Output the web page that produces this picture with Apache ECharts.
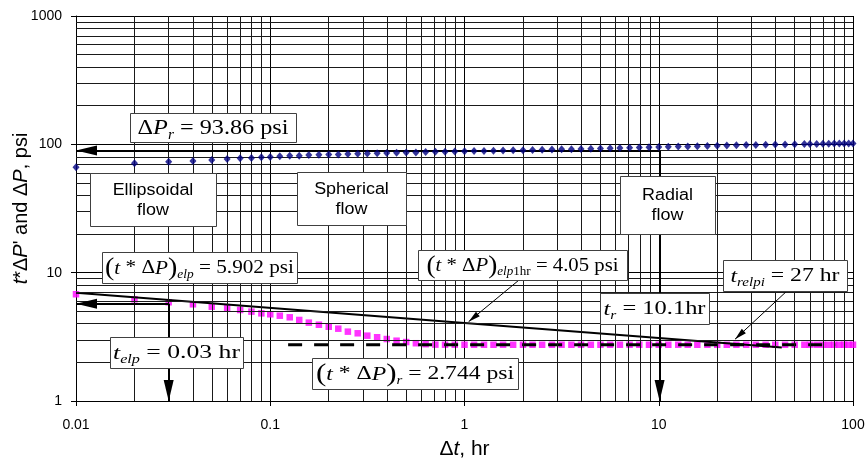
<!DOCTYPE html>
<html>
<head>
<meta charset="utf-8">
<script src="https://cdn.jsdelivr.net/npm/echarts@6/dist/echarts.min.js"></script>
<style>
  html, body { margin: 0; padding: 0; background: #fff; }
  #chart { width: 867px; height: 460px; }
</style>
</head>
<body>
<div id="chart"></div>
<script>
// elapsed time, hr
var timeHr = [
  0.01, 0.02, 0.03, 0.04, 0.05, 0.06, 0.07, 0.08, 0.09, 0.1,
  0.112, 0.126, 0.141, 0.158, 0.178, 0.2, 0.224, 0.251, 0.282, 0.316,
  0.355, 0.398, 0.447, 0.501, 0.562, 0.631, 0.708, 0.794, 0.891, 1,
  1.12, 1.26, 1.41, 1.58, 1.78, 2, 2.24, 2.51, 2.82, 3.16,
  3.55, 3.98, 4.47, 5.01, 5.62, 6.31, 7.08, 7.94, 8.91, 10,
  11.2, 12.6, 14.1, 15.8, 17.8, 20, 22.4, 25.1, 28.2, 31.6,
  35.5, 39.8, 44.7, 50.1, 56.2,
  60, 65, 70, 75, 80, 85, 90, 95, 100
]
// pressure drop, psi
var deltaP = [
  66.3, 71.3, 73.3, 74.3, 75.5, 76.9, 77.8, 78.4, 79.2, 79.5,
  80.9, 81.3, 81.3, 82.6, 82.8, 83.2, 83.4, 84.2, 84.5, 84.9,
  85.4, 85.6, 85.8, 86.2, 86.5, 87.2, 87.4, 87.6, 87.8, 88.3,
  88.6, 88.9, 89.2, 89.5, 89.8, 90.1, 90.4, 90.7, 91.0, 91.4,
  91.7, 92.1, 92.5, 92.9, 93.3, 93.7, 94.1, 94.5, 94.9, 95.3,
  95.7, 96.0, 96.4, 96.8, 97.1, 97.5, 97.9, 98.3, 98.6, 99.0,
  99.3, 99.6, 99.9, 100.2, 100.4,
  100.6, 100.8, 101.0, 101.1, 101.3, 101.4, 101.5, 101.6, 101.7
]
// pressure derivative t*dP', psi
var derivP = [
  6.79, 6.2, 5.88, 5.67, 5.43, 5.31, 5.12, 4.97, 4.82, 4.74,
  4.62, 4.49, 4.28, 4.08, 3.93, 3.79, 3.66, 3.47, 3.37, 3.23,
  3.14, 3.04, 2.95, 2.88, 2.82, 2.77, 2.75, 2.745, 2.744, 2.744,
  2.744, 2.743, 2.744, 2.745, 2.744, 2.744, 2.743, 2.744, 2.744, 2.745,
  2.744, 2.744, 2.743, 2.744, 2.744, 2.745, 2.744, 2.744, 2.743, 2.744,
  2.744, 2.745, 2.744, 2.744, 2.743, 2.744, 2.744, 2.744, 2.745, 2.744,
  2.744, 2.743, 2.744, 2.744, 2.744,
  2.745, 2.744, 2.744, 2.743, 2.744, 2.744, 2.745, 2.744, 2.744
]
// ellipsoidal flow straight line
var elpLineT = [0.01, 1, 43]
var elpLineV = [6.97, 4.05, 2.61]
// radial flow level
var radialT = [0.1236, 81]
var radialV = 2.744

var xTicks = [0.01, 0.1, 1, 10, 100]
var xTickLabels = ['0.01', '0.1', '1', '10', '100']
var yTicks = [1, 10, 100, 1000]
var yTickLabels = ['1', '10', '100', '1000']
var minorX = [0.02, 0.03, 0.04, 0.05, 0.06, 0.07, 0.08, 0.09,
  0.2, 0.3, 0.4, 0.5, 0.6, 0.7, 0.8, 0.9,
  2, 3, 4, 5, 6, 7, 8, 9,
  20, 30, 40, 50, 60, 70, 80, 90]
var minorY = [2, 3, 4, 5, 6, 7, 8, 9,
  20, 30, 40, 50, 60, 70, 80, 90,
  200, 300, 400, 500, 600, 700, 800, 900]

// annotation arrows [from, to] in data units
var thickArrows = [
  [[10.1, 89.5], [0.01, 89.5]],
  [[10.1, 89.5], [10.1, 1]],
  [[0.03, 5.72], [0.01, 5.72]],
  [[0.03, 5.72], [0.03, 1]]
]
var thinArrows = [
  [[1.91, 8.77], [1.05, 4.15]],
  [[45.7, 7.2], [24.7, 3.03]]
]

var sans = '"Liberation Sans", Arial, sans-serif'
var serif = '"Liberation Serif", "Times New Roman", serif'

function xyPairs(xs, ys) {
  return xs.map(function (x, i) { return [x, Array.isArray(ys) ? ys[i] : ys] })
}
function tickText(ticks, labels) {
  return function (v) {
    var k = Math.round(Math.log10(v))
    for (var i = 0; i < ticks.length; i++) {
      if (Math.round(Math.log10(ticks[i])) === k) return labels[i]
    }
    return ''
  }
}
function arrowData(list, size) {
  return list.map(function (a) {
    return [
      { coord: a[0], symbol: 'none' },
      { coord: a[1], symbol: 'triangle', symbolSize: size, symbolOffset: [0, size[1] / 2] }
    ]
  })
}

function makeRich(fs) {
  var lh = fs + 8
  var sfs = Math.round(fs * 0.64)
  var pad = Math.round(fs * 0.62)
  return {
    rm: { fontFamily: serif, fontSize: fs, lineHeight: lh, color: '#000' },
    it: { fontFamily: serif, fontSize: fs, fontStyle: 'italic', lineHeight: lh, color: '#000' },
    sub: { fontFamily: serif, fontSize: sfs, fontStyle: 'italic', lineHeight: lh, padding: [pad, 0, 0, 0], color: '#000' },
    subrm: { fontFamily: serif, fontSize: sfs, lineHeight: lh, padding: [pad, 0, 0, 0], color: '#000' },
    par: { fontFamily: serif, fontSize: Math.round(fs * 1.3), lineHeight: lh, color: '#000' }
  }
}

// measure a rich string so it can be stretched to the reference width
var ctx = document.createElement('canvas').getContext('2d')
function richWidth(str, rich) {
  var w = 0
  str.replace(/\{(\w+)\|([^}]*)\}/g, function (m, k, s) {
    var st = rich[k]
    ctx.font = (st.fontStyle || 'normal') + ' ' + st.fontSize + 'px ' + st.fontFamily
    w += ctx.measureText(s).width
    return m
  })
  return w
}

var boxes = [
  { x: 130, y: 113, w: 166, h: 29, fs: 22, tw: 151, text: '{rm|Δ}{it|P}{sub|r}{rm| = 93.86 psi}' },
  { x: 90, y: 173, w: 126, h: 53, text: 'Ellipsoidal\nflow' },
  { x: 297, y: 172, w: 109, h: 53, text: 'Spherical\nflow' },
  { x: 620, y: 176, w: 95, h: 58, text: 'Radial\nflow' },
  { x: 102, y: 252, w: 195, h: 31, fs: 19, tw: 189, text: '{par|(}{it|t}{rm| * Δ}{it|P}{par|)}{sub|elp}{rm| = 5.902 psi}' },
  { x: 418, y: 250, w: 209, h: 30, fs: 19, tw: 192, text: '{par|(}{it|t}{rm| * Δ}{it|P}{par|)}{sub|elp}{subrm|1hr}{rm| = 4.05 psi}' },
  { x: 723, y: 260, w: 124, h: 31, fs: 19, tw: 109, text: '{it|t}{sub|relpi}{rm| = 27 hr}' },
  { x: 600, y: 293, w: 109, h: 31, fs: 19, tw: 102, text: '{it|t}{sub|r}{rm| = 10.1hr}' },
  { x: 110, y: 337, w: 133, h: 31, fs: 19, tw: 127, text: '{it|t}{sub|elp}{rm| = 0.03 hr}' },
  { x: 312, y: 358, w: 206, h: 31, fs: 19, tw: 198, text: '{par|(}{it|t}{rm| * Δ}{it|P}{par|)}{sub|r}{rm| = 2.744 psi}' }
]

var graphics = []
boxes.forEach(function (b) {
  graphics.push({
    type: 'rect', z: 100,
    shape: { x: b.x + 0.5, y: b.y + 0.5, width: b.w, height: b.h },
    style: { fill: '#fff', stroke: '#404040', lineWidth: 1 }
  })
  if (b.fs) {
    var rich = makeRich(b.fs)
    graphics.push({
      type: 'text', z: 101,
      x: b.x + b.w / 2, y: b.y + b.h / 2 + 1, scaleX: b.tw / richWidth(b.text, rich),
      style: { text: b.text, rich: rich, align: 'center', verticalAlign: 'middle' }
    })
  } else {
    graphics.push({
      type: 'text', z: 101,
      x: b.x + b.w / 2, y: b.y + b.h / 2 + 1, scaleX: 1.12,
      style: {
        text: b.text, fontFamily: sans, fontSize: 16, lineHeight: 20, fill: '#000',
        align: 'center', verticalAlign: 'middle'
      }
    })
  }
})

var chart = echarts.init(document.getElementById('chart'))
var option = {
  animation: false,
  backgroundColor: '#fff',
  grid: { left: 76, right: 14, top: 16, bottom: 59, outerBoundsMode: 'none', containLabel: false },
  xAxis: {
    type: 'log', logBase: 10, min: 0.01, max: 100,
    name: '{n|Δ}{it|t}{n|, hr}',
    nameLocation: 'middle', nameGap: 38, nameMoveOverlap: false,
    nameTextStyle: {
      rich: {
        n: { fontFamily: sans, fontSize: 21, color: '#000' },
        it: { fontFamily: sans, fontSize: 21, fontStyle: 'italic', color: '#000' }
      }
    },
    axisLine: { lineStyle: { color: '#000', width: 1 } },
    axisTick: { show: true, length: 5, lineStyle: { color: '#000' } },
    axisLabel: { fontFamily: sans, fontSize: 14, color: '#000', margin: 17, formatter: tickText(xTicks, xTickLabels) },
    splitLine: { show: true, lineStyle: { color: '#000', width: 1 } }
  },
  yAxis: {
    type: 'log', logBase: 10, min: 1, max: 1000,
    name: "{it|t}{n|*Δ}{it|P}{n|' and Δ}{it|P}{n|, psi}",
    nameLocation: 'middle', nameGap: 45, nameMoveOverlap: false,
    nameTextStyle: {
      rich: {
        n: { fontFamily: sans, fontSize: 20, color: '#000' },
        it: { fontFamily: sans, fontSize: 20, fontStyle: 'italic', color: '#000' }
      }
    },
    axisLine: { show: true, lineStyle: { color: '#000', width: 1 } },
    axisTick: { show: true, length: 5, lineStyle: { color: '#000' } },
    axisLabel: { fontFamily: sans, fontSize: 14, color: '#000', margin: 14, formatter: tickText(yTicks, yTickLabels) },
    splitLine: { show: true, lineStyle: { color: '#000', width: 1 } }
  },
  series: [
    {
      name: 'minor grid', type: 'line', data: [], silent: true, z: 1,
      markLine: {
        silent: true, symbol: ['none', 'none'], label: { show: false },
        lineStyle: { color: '#1a1a1a', width: 1, type: 'solid' },
        emphasis: { disabled: true },
        data: minorX.map(function (v) { return { xAxis: v } })
          .concat(minorY.map(function (v) { return { yAxis: v } }))
      }
    },
    {
      name: 't*dP\'', type: 'scatter', z: 3,
      symbol: 'rect', symbolSize: 6.5,
      itemStyle: { color: '#ff00ff' },
      data: xyPairs(timeHr, derivP)
    },
    {
      name: 'radial', type: 'line', z: 4, symbol: 'none',
      lineStyle: { color: '#000', width: 3, type: [14, 12] },
      data: xyPairs(radialT, radialV)
    },
    {
      name: 'ellipsoidal', type: 'line', z: 4, symbol: 'none',
      lineStyle: { color: '#000', width: 2 },
      data: xyPairs(elpLineT, elpLineV)
    },
    {
      name: 'dP', type: 'scatter', z: 5,
      symbol: 'diamond', symbolSize: [7, 8],
      itemStyle: { color: '#000080' },
      data: xyPairs(timeHr, deltaP)
    },
    {
      name: 'arrows', type: 'line', data: [], z: 6,
      markLine: {
        silent: true, label: { show: false }, emphasis: { disabled: true },
        lineStyle: { color: '#000', width: 2, type: 'solid' },
        itemStyle: { color: '#000' },
        data: arrowData(thickArrows, [10, 21])
      }
    },
    {
      name: 'pointers', type: 'line', data: [], z: 6,
      markLine: {
        silent: true, label: { show: false }, emphasis: { disabled: true },
        lineStyle: { color: '#000', width: 1, type: 'solid' },
        itemStyle: { color: '#000' },
        data: arrowData(thinArrows, [6, 12])
      }
    }
  ],
  graphic: graphics
}
chart.setOption(option)
</script>
</body>
</html>
